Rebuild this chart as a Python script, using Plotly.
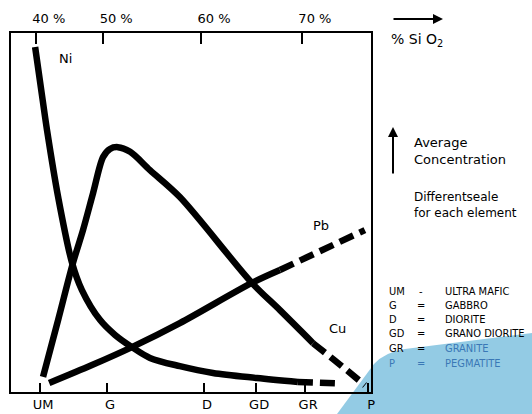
import plotly.graph_objects as go

# ---- data (relative position along SiO2 axis 0-100, relative concentration 0-100)
ni_x = [6.7, 8.8, 10.0, 13.1, 16.9, 19.7, 24.7, 28.9, 33.6, 38.6, 46.9, 56.1, 68.3, 79.7]
ni_y = [96.1, 81.3, 73.0, 54.3, 36.2, 28.4, 20.1, 15.9, 12.5, 9.5, 7.2, 5.3, 3.9, 2.8]
ni_dash_x = [79.7, 90.8]
ni_dash_y = [2.8, 2.4]

cu_x = [8.9, 13.1, 17.2, 20.0, 22.8, 25.6, 27.5, 29.7, 33.1, 38.6, 46.9, 66.9, 74.7, 83.9]
cu_y = [4.2, 20.1, 35.9, 45.1, 55.4, 65.5, 67.7, 68.2, 66.9, 61.8, 54.3, 30.4, 22.8, 13.6]
cu_dash_x = [83.9, 90.8, 98.3]
cu_dash_y = [13.6, 8.1, 1.9]

pb_x = [10.6, 22.5, 33.6, 46.9, 66.9, 74.7]
pb_y = [2.5, 7.5, 12.5, 19.2, 30.4, 34.0]
pb_dash_x = [74.7, 98.3]
pb_dash_y = [34.0, 45.1]

top_tick_vals = [6.9, 25.6, 52.8, 80.8]
top_tick_text = ["40 %", "50 %", "60 %", "70 %"]
bottom_tick_vals = [8.1, 26.7, 53.6, 68.1, 81.7, 99.2]
bottom_tick_text = ["UM", "G", "D", "GD", "GR", "P"]

legend_abbr = ["UM", "G", "D", "GD", "GR", "P"]
legend_sign = ["-", "=", "=", "=", "=", "="]
legend_name = ["ULTRA MAFIC", "GABBRO", "DIORITE", "GRANO DIORITE", "GRANITE", "PEGMATITE"]

W, H = 532, 414
L, R, T, B = 11, 161, 33, 22
PW, PH = W - L - R, H - T - B
FONT = "DejaVu Sans, sans-serif"
FONT_C = "DejaVu Sans Condensed, DejaVu Sans, sans-serif"
BLUE_TXT = "#3a78b6"


def px(x):
    return (x - L) / PW


def py(y):
    return (H - B - y) / PH


fig = go.Figure()
LW = 6.5
DASH = "15px,7px"
for xs, ys, dash in [(ni_x, ni_y, "solid"), (ni_dash_x, ni_dash_y, DASH),
                     (cu_x, cu_y, "solid"), (cu_dash_x, cu_dash_y, DASH),
                     (pb_x, pb_y, "solid"), (pb_dash_x, pb_dash_y, DASH)]:
    fig.add_trace(go.Scatter(x=xs, y=ys, mode="lines",
                             line=dict(color="black", width=LW, dash=dash,
                                       shape="spline", smoothing=0.9),
                             hoverinfo="skip", showlegend=False))

# invisible trace to anchor top axis
fig.add_trace(go.Scatter(x=[0, 100], y=[None, None], xaxis="x2", mode="lines",
                         showlegend=False, hoverinfo="skip"))

annotations = []
for txt, x, y in [("Ni", 15.0, 93.0), ("Pb", 86.1, 46.5), ("Cu", 90.6, 17.8)]:
    annotations.append(dict(x=x, y=y, xref="x", yref="y", text=txt, showarrow=False,
                            xanchor="center", yanchor="middle",
                            font=dict(size=13, color="black", family=FONT)))

# arrow to the right and %SiO2
annotations.append(dict(x=px(443), y=py(19), xref="paper", yref="paper", text="",
                        showarrow=True, axref="pixel", ayref="pixel", ax=-51, ay=0,
                        arrowhead=2, arrowsize=1, arrowwidth=2, arrowcolor="black"))
annotations.append(dict(x=px(389), y=py(40), xref="paper", yref="paper",
                        text="% Si O<sub>2</sub>", showarrow=False, xanchor="left",
                        yanchor="middle",
                        font=dict(size=14, color="black", family=FONT)))
# up arrow
annotations.append(dict(x=px(393), y=py(127), xref="paper", yref="paper", text="",
                        showarrow=True, axref="pixel", ayref="pixel", ax=0, ay=48,
                        arrowhead=2, arrowsize=1, arrowwidth=2, arrowcolor="black"))
annotations.append(dict(x=px(412), y=py(151), xref="paper", yref="paper",
                        text="Average<br>Concentration", showarrow=False, xanchor="left",
                        yanchor="middle", align="left",
                        font=dict(size=13, color="black", family=FONT)))
annotations.append(dict(x=px(412), y=py(205), xref="paper", yref="paper",
                        text="Differentseale<br>for each element", showarrow=False,
                        xanchor="left", yanchor="middle", align="left",
                        font=dict(size=12, color="black", family=FONT)))

row_y = [291, 305, 319, 333, 348, 363]
for i, (a, s, n) in enumerate(zip(legend_abbr, legend_sign, legend_name)):
    yy = row_y[i]
    on_blue_name = i >= 4
    on_blue_all = i == 5
    annotations.append(dict(x=px(387), y=py(yy), xref="paper", yref="paper", text=a,
                            showarrow=False, xanchor="left", yanchor="middle",
                            font=dict(size=11, color=BLUE_TXT if on_blue_all else "black",
                                      family=FONT_C)))
    annotations.append(dict(x=px(421), y=py(yy), xref="paper", yref="paper", text=s,
                            showarrow=False, xanchor="center", yanchor="middle",
                            font=dict(size=11, color=BLUE_TXT if on_blue_all else "black",
                                      family=FONT_C)))
    annotations.append(dict(x=px(443), y=py(yy), xref="paper", yref="paper", text=n,
                            showarrow=False, xanchor="left", yanchor="middle",
                            font=dict(size=11, color=BLUE_TXT if on_blue_name else "black",
                                      family=FONT_C)))

blue_path = "M {} {} L {} {} Q {} {} {} {} L {} {} L {} {} Z".format(
    px(337), py(414), px(374), py(364), px(385), py(352), px(405), py(349),
    px(532), py(333), px(532), py(414))

fig.update_layout(
    width=W, height=H,
    margin=dict(l=L, r=R, t=T, b=B, pad=0, autoexpand=False),
    paper_bgcolor="white", plot_bgcolor="rgba(0,0,0,0)",
    showlegend=False,
    font=dict(family=FONT, color="black"),
    xaxis=dict(range=[0, 100], showline=True, linecolor="black", linewidth=1.5,
               mirror=True, ticks="inside", ticklen=9, tickwidth=1.5, tickcolor="black",
               tickvals=bottom_tick_vals, ticktext=bottom_tick_text, ticklabelshift=3,
               tickfont=dict(size=13, family=FONT), showgrid=False, zeroline=False,
               automargin=False, fixedrange=True),
    xaxis2=dict(range=[0, 100], overlaying="x", side="top", showline=False,
                ticks="inside", ticklen=11, tickwidth=1.5, tickcolor="black",
                tickvals=top_tick_vals, ticktext=top_tick_text, ticklabelshift=13,
                ticklabelstandoff=6, automargin=False,
                tickfont=dict(size=13, family=FONT), showgrid=False, zeroline=False),
    yaxis=dict(range=[0, 100], showline=True, linecolor="black", linewidth=1.5,
               mirror=True, ticks="", showticklabels=False, showgrid=False,
               zeroline=False, automargin=False),
    shapes=[dict(type="path", path=blue_path, xref="paper", yref="paper",
                 fillcolor="#93cbe4", line=dict(width=0), layer="below")],
    annotations=annotations,
)

fig.write_html("out.html", config={"displayModeBar": False},
               post_script="document.body.style.margin='0';")
